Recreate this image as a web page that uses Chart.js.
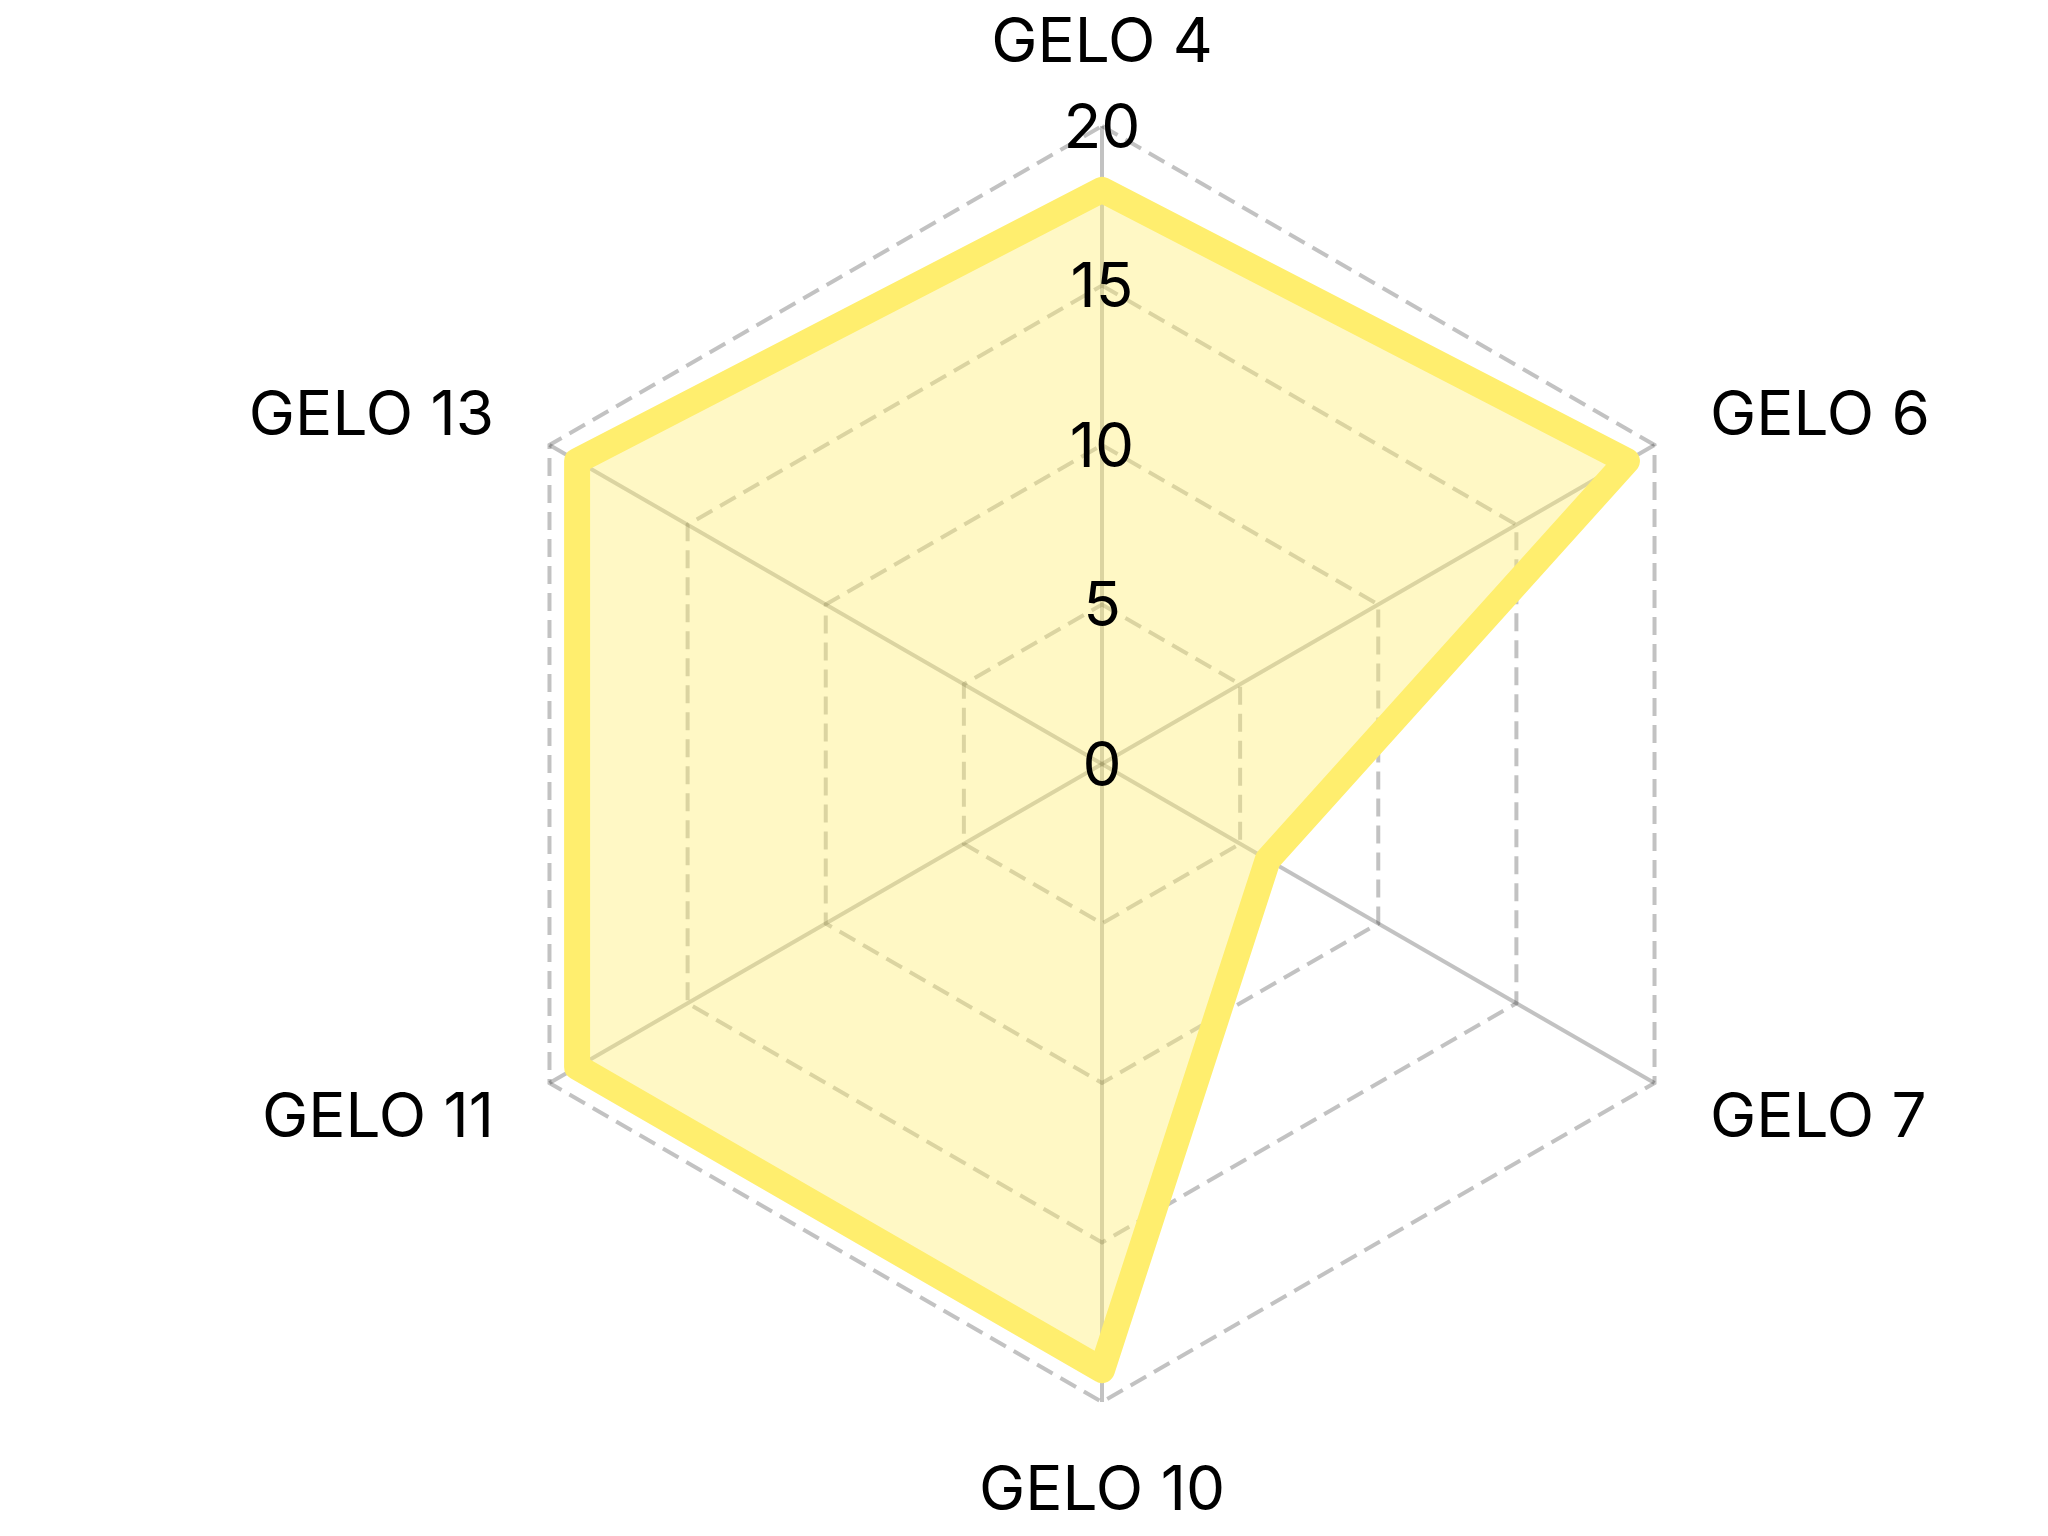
<!DOCTYPE html>
<html>
<head>
<meta charset="utf-8">
<script src="https://cdn.jsdelivr.net/npm/chart.js@4/dist/chart.umd.min.js"></script>
<style>
  html, body { margin: 0; padding: 0; background: #fff; }
  #wrap { width: 2048px; height: 1536px; position: relative; }
</style>
</head>
<body>
<div id="wrap"><canvas id="radar"></canvas></div>
<script>
// datos del gráfico
const categorias = ['GELO 4', 'GELO 6', 'GELO 7', 'GELO 10', 'GELO 11', 'GELO 13'];
const valores = [18, 19, 6, 19, 19, 19];
const escalaMin = 0;
const escalaMax = 20;
const paso = 5;

const FUENTE = 'Inter, "Noto Sans", sans-serif';
const TAM = 62;

// etiquetas exteriores, dibujadas antes de la serie
const etiquetasPlugin = {
  id: 'etiquetas',
  beforeDatasetsDraw(chart) {
    const r = chart.scales.r;
    const ctx = chart.ctx;
    ctx.save();
    ctx.font = TAM + 'px ' + FUENTE;
    ctx.fillStyle = '#000';
    ctx.textBaseline = 'middle';
    categorias.forEach((txt, i) => {
      const p = r.getPointPosition(i, r.drawingArea + 64);
      const dx = p.x - r.xCenter;
      let y = p.y + 3;
      if (Math.abs(dx) < 1) {
        ctx.textAlign = 'center';
        y += p.y < r.yCenter ? -22 : 22;
      } else {
        ctx.textAlign = dx > 0 ? 'left' : 'right';
      }
      ctx.fillText(txt, p.x, y);
    });
    ctx.restore();
  },
  // los ticks van encima del relleno
  afterDatasetsDraw(chart) {
    const r = chart.scales.r;
    const ctx = chart.ctx;
    ctx.save();
    ctx.font = TAM + 'px ' + FUENTE;
    ctx.fillStyle = '#000';
    ctx.textAlign = 'center';
    ctx.textBaseline = 'middle';
    r.ticks.forEach(t => {
      const d = r.getDistanceFromCenterForValue(t.value);
      ctx.fillText(String(t.value), r.xCenter, r.yCenter - d + 3);
    });
    ctx.restore();
  }
};

const ctx = document.getElementById('radar').getContext('2d');
new Chart(ctx, {
  type: 'radar',
  data: {
    labels: categorias,
    datasets: [{
      data: valores,
      backgroundColor: 'rgba(255, 238, 110, 0.4)',
      borderColor: 'rgb(255, 238, 110)',
      borderWidth: 26,
      borderJoinStyle: 'round',
      pointRadius: 0,
      pointHoverRadius: 0,
      fill: true
    }]
  },
  options: {
    responsive: true,
    maintainAspectRatio: false,
    animation: false,
    layout: { padding: { top: 126, bottom: 134, left: 402, right: 246 } },
    plugins: {
      legend: { display: false },
      tooltip: { enabled: false }
    },
    scales: {
      r: {
        min: escalaMin,
        max: escalaMax,
        ticks: { stepSize: paso, display: false },
        pointLabels: { display: false },
        grid: { color: 'rgba(0, 0, 0, 0.24)', lineWidth: 4 },
        border: { dash: [18, 9] },
        angleLines: { color: 'rgba(0, 0, 0, 0.24)', lineWidth: 4 }
      }
    }
  },
  plugins: [etiquetasPlugin]
});
</script>
</body>
</html>
